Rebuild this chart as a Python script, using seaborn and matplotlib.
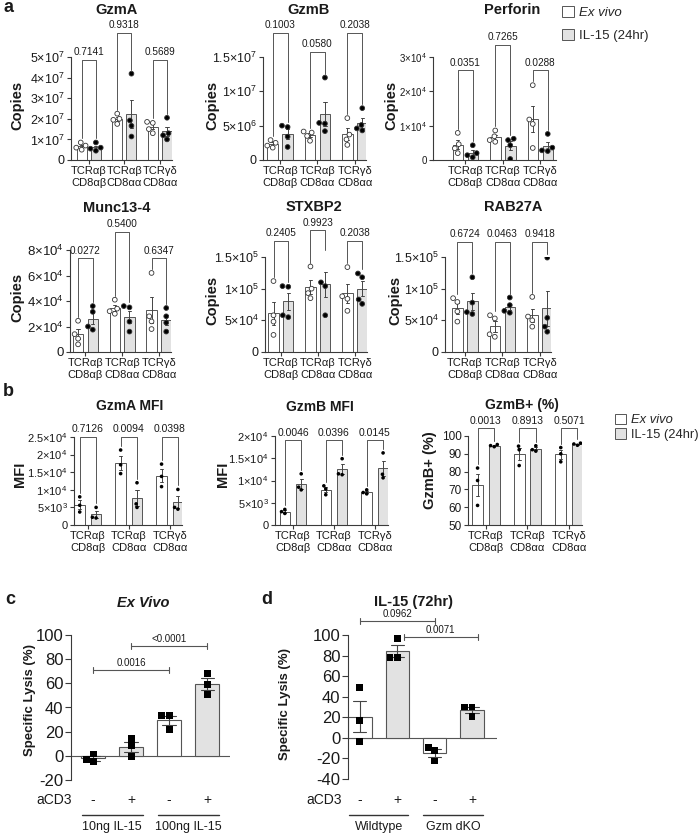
import numpy as np
import pandas as pd
import matplotlib
matplotlib.use("Agg")
import matplotlib.pyplot as plt
import seaborn as sns
from matplotlib.patches import Patch
from matplotlib.transforms import blended_transform_factory

# ---------------- data ----------------
cell_types = ["TCRαβ\nCD8αβ", "TCRαβ\nCD8αα", "TCRγδ\nCD8αα"]
conditions = ["Ex vivo", "IL-15 (24hr)"]

gzma_exvivo = [[0.85e7, 0.70e7, 0.60e7, 0.50e7], [2.25e7, 2.00e7, 1.95e7, 1.75e7], [1.85e7, 1.80e7, 1.50e7, 1.30e7]]
gzma_il15 = [[0.85e7, 0.60e7, 0.55e7, 0.45e7], [4.19e7, 1.92e7, 1.66e7, 1.14e7], [2.05e7, 1.30e7, 1.20e7, 1.00e7]]
gzma_p = ["0.7141", "0.9318", "0.5689"]

gzmb_exvivo = [[2.9e6, 2.5e6, 2.1e6, 1.8e6], [4.15e6, 4.0e6, 3.5e6, 2.8e6], [6.1e6, 3.7e6, 3.0e6, 2.2e6]]
gzmb_il15 = [[5.0e6, 4.8e6, 3.4e6, 1.9e6], [12.0e6, 5.4e6, 5.3e6, 4.2e6], [7.55e6, 5.1e6, 4.6e6, 4.3e6]]
gzmb_p = ["0.1003", "0.0580", "0.2038"]

prf_exvivo = [[7.9e3, 4.6e3, 3.4e3, 2.0e3], [8.6e3, 6.9e3, 5.8e3, 5.3e3], [21.8e3, 11.8e3, 10.5e3, 3.5e3]]
prf_il15 = [[4.3e3, 2.0e3, 1.4e3, 0.8e3], [6.2e3, 5.8e3, 4.3e3, 0.3e3], [7.6e3, 3.6e3, 2.8e3, 2.6e3]]
prf_p = ["0.0351", "0.7265", "0.0288"]

munc_exvivo = [[2.45e4, 1.4e4, 1.05e4, 0.6e4], [4.1e4, 3.4e4, 3.2e4, 3.0e4], [6.2e4, 2.8e4, 2.4e4, 1.8e4]]
munc_il15 = [[3.6e4, 3.15e4, 2.0e4, 1.75e4], [3.6e4, 3.5e4, 2.38e4, 1.6e4], [3.45e4, 2.8e4, 2.3e4, 1.6e4]]
munc_p = ["0.0272", "0.5400", "0.6347"]

stx_exvivo = [[11.2e4, 5.8e4, 4.8e4, 2.7e4], [13.5e4, 10.0e4, 9.3e4, 8.5e4], [13.4e4, 8.8e4, 8.4e4, 6.5e4]]
stx_il15 = [[10.4e4, 10.3e4, 5.8e4, 5.5e4], [15.5e4, 11.0e4, 10.4e4, 5.8e4], [12.4e4, 11.8e4, 8.3e4, 7.6e4]]
stx_p = ["0.2405", "0.9923", "0.2038"]

rab_exvivo = [[8.5e4, 7.9e4, 6.4e4, 4.8e4], [5.8e4, 5.3e4, 2.8e4, 2.4e4], [8.7e4, 5.6e4, 5.0e4, 4.0e4]]
rab_il15 = [[11.8e4, 7.8e4, 6.3e4, 6.0e4], [8.6e4, 7.4e4, 6.5e4, 6.2e4], [14.9e4, 5.4e4, 4.0e4, 3.2e4]]
rab_p = ["0.6724", "0.0463", "0.9418"]

mfia_exvivo = [[8.0e3, 5.6e3, 3.7e3], [21.3e3, 17.1e3, 14.6e3], [17.3e3, 13.8e3, 10.9e3]]
mfia_il15 = [[5.0e3, 2.2e3, 2.0e3], [12.0e3, 6.0e3, 5.0e3], [10.1e3, 5.0e3, 4.5e3]]
mfia_p = ["0.7126", "0.0094", "0.0398"]

mfib_exvivo = [[3.5e3, 3.0e3, 2.6e3], [8.8e3, 8.1e3, 6.8e3], [7.9e3, 7.3e3, 7.0e3]]
mfib_il15 = [[11.5e3, 8.5e3, 7.9e3], [14.9e3, 11.5e3, 11.3e3], [16.2e3, 11.4e3, 10.6e3]]
mfib_p = ["0.0046", "0.0396", "0.0145"]

pct_exvivo = [[82, 75, 61], [94.3, 92.3, 83.4], [93.5, 90.0, 85.5]]
pct_il15 = [[95.2, 94.6, 94.0], [94.5, 92.3, 91.5], [96.0, 95.5, 94.8]]
pct_p = ["0.0013", "0.8913", "0.5071"]

acd3_signs = ["-", "+"]
c_groups = ["10ng IL-15", "100ng IL-15"]
c_lysis = [[1.5, -3, -5], [14.5, 8.5, -0.5], [33, 33, 22], [68, 59, 51]]
c_p = ["0.0016", "<0.0001"]
d_groups = ["Wildtype", "Gzm dKO"]
d_lysis = [[48.5, 17, -4], [97, 78.5, 78], [-9, -12, -22.5], [30, 30, 21]]
d_p = ["0.0962", "0.0071"]

# tick labels
t_gzma = ["0", "1×10$^7$", "2×10$^7$", "3×10$^7$", "4×10$^7$", "5×10$^7$"]
t_gzmb = ["0", "5×10$^6$", "1×10$^7$", "1.5×10$^7$"]
t_prf = ["0", "1×10$^4$", "2×10$^4$", "3×10$^4$"]
t_munc = ["0", "2×10$^4$", "4×10$^4$", "6×10$^4$", "8×10$^4$"]
t_e5 = ["0", "5×10$^4$", "1×10$^5$", "1.5×10$^5$"]
t_mfia = ["0", "5×10$^3$", "1×10$^4$", "1.5×10$^4$", "2×10$^4$", "2.5×10$^4$"]
t_mfib = ["0", "5×10$^3$", "1×10$^4$", "1.5×10$^4$", "2×10$^4$"]
t_pct = ["50", "60", "70", "80", "90", "100"]

# ---------------- style ----------------
sns.set_theme(style="ticks")
plt.rcParams["font.family"] = ["Liberation Sans", "DejaVu Sans"]
plt.rcParams["mathtext.fontset"] = "custom"
plt.rcParams["mathtext.rm"] = "Liberation Sans"
plt.rcParams["mathtext.it"] = "Liberation Sans:italic"
plt.rcParams["mathtext.bf"] = "Liberation Sans:bold"

W, H = 699, 833
fig = plt.figure(figsize=(W / 100, H / 100), dpi=100)
fig.patch.set_facecolor("white")

LINE = "#3a3a3a"
EDGE = "#555555"
FILL = "#e2e2e2"
TXT = "#1a1a1a"


def px_rect(l, t, r, b):
    return [l / W, 1 - b / H, (r - l) / W, (b - t) / H]


def ftext(x, y, s, **kw):
    kw.setdefault("ha", "center")
    kw.setdefault("va", "center")
    kw.setdefault("color", TXT)
    fig.text(x / W, 1 - y / H, s, **kw)


def style_axis(ax, ytick_fs, hide_bottom=False):
    sns.despine(ax=ax)
    for s in ["left", "bottom"]:
        ax.spines[s].set_color(LINE)
        ax.spines[s].set_linewidth(0.8)
    if hide_bottom:
        ax.spines["bottom"].set_visible(False)
    ax.tick_params(axis="both", colors=LINE, labelcolor=TXT, width=0.8, length=3, pad=1.5)
    ax.tick_params(axis="y", labelsize=ytick_fs)
    ax.set_xlabel("")
    ax.set_ylabel("")


def grouped_panel(rect, exv, il, ylim, yticks, yticklabels, xlim, pvals, bracket_y,
                  ytick_fs=8.5, xtick_fs=8, p_fs=7.2, pt_size=3.4, open_pts=True,
                  gap=0.3, capsize=0.18, p_off=2):
    ax = fig.add_axes(px_rect(*rect))
    rows = []
    for cond, series in zip(conditions, (exv, il)):
        for cell, vals in zip(cell_types, series):
            for v in vals:
                rows.append((cell, cond, v))
    df = pd.DataFrame(rows, columns=["cell", "cond", "value"])
    sns.barplot(data=df, x="cell", y="value", hue="cond", order=cell_types,
                hue_order=conditions, palette={conditions[0]: "white", conditions[1]: FILL},
                errorbar="se", capsize=capsize, gap=gap, width=0.8, edgecolor=EDGE,
                linewidth=0.7, err_kws={"color": "#444444", "linewidth": 0.7},
                legend=False, ax=ax)
    pt_pal = {conditions[0]: "white" if open_pts else "black", conditions[1]: "black"}
    sns.swarmplot(data=df, x="cell", y="value", hue="cond", order=cell_types,
                  hue_order=conditions, palette=pt_pal, dodge=True, size=pt_size,
                  edgecolor="#333333", linewidth=0.6 if open_pts else 0.0,
                  legend=False, ax=ax)
    ax.set_xlim(*xlim)
    ax.set_ylim(*ylim)
    ax.set_yticks(yticks, yticklabels)
    ax.set_xticks(range(len(cell_types)), cell_types)
    style_axis(ax, ytick_fs)
    ax.tick_params(axis="x", labelsize=xtick_fs)
    for t in ax.get_xticklabels():
        t.set_linespacing(1.25)
    # brackets
    h_px = rect[3] - rect[1]
    pad = 4 / h_px * (ylim[1] - ylim[0])
    for g in range(len(cell_types)):
        tops = []
        for series in (exv, il):
            vals = np.asarray(series[g], float)
            sem = vals.std(ddof=1) / np.sqrt(len(vals))
            tops.append(max(vals.max(), vals.mean() + sem) + pad)
        x0, x1 = g - 0.2, g + 0.2
        yb = bracket_y[g]
        ax.plot([x0, x0, x1, x1], [tops[0], yb, yb, tops[1]], color="#555555",
                lw=0.7, clip_on=False)
        ax.annotate(pvals[g], (g, yb), xytext=(0, p_off), textcoords="offset points",
                    ha="center", va="bottom", fontsize=p_fs, color=TXT,
                    annotation_clip=False)
    return ax


def lysis_panel(rect, groups, values, ylim, yticks, xlim, pvals, pairs, bracket_y,
                acd3_x, label_y=800, line_y=815, group_y=827):
    ax = fig.add_axes(px_rect(*rect))
    cats = [f"{g} {s}" for g in groups for s in acd3_signs]
    signs = [s for g in groups for s in acd3_signs]
    rows = []
    for cat, sign, vals in zip(cats, signs, values):
        for v in vals:
            rows.append((cat, sign, v))
    df = pd.DataFrame(rows, columns=["cat", "sign", "lysis"])
    sns.barplot(data=df, x="cat", y="lysis", hue="sign", order=cats, hue_order=acd3_signs,
                dodge=False, palette={"-": "white", "+": FILL}, width=0.63,
                errorbar="se", capsize=0.35, edgecolor=EDGE, linewidth=0.8,
                err_kws={"color": "#444444", "linewidth": 0.8}, legend=False, ax=ax)
    sns.swarmplot(data=df, x="cat", y="lysis", hue="sign", order=cats,
                  hue_order=acd3_signs, dodge=False, palette={"-": "black", "+": "black"},
                  marker="s", size=5.0, linewidth=0, legend=False, ax=ax)
    ax.set_xlim(*xlim)
    ax.set_ylim(*ylim)
    ax.set_yticks(yticks, [str(v) for v in yticks])
    style_axis(ax, 12, hide_bottom=True)
    ax.tick_params(axis="y", length=4)
    ax.set_xticks([])
    ax.axhline(0, color="#555555", lw=0.8, zorder=0.5)
    h_px = rect[3] - rect[1]
    trans = blended_transform_factory(ax.transData, ax.transAxes)

    def ay(py):
        return (rect[3] - py) / h_px
    for i, s in enumerate(signs):
        ax.text(i, ay(label_y), s, transform=trans, ha="center", va="center",
                fontsize=10, color=TXT, clip_on=False)
    for gi, g in enumerate(groups):
        x0, x1 = 2 * gi - 0.3, 2 * gi + 1 + 0.3
        ax.plot([x0, x1], [ay(line_y)] * 2, transform=trans, color="#333333", lw=1.0,
                clip_on=False)
        ax.text((x0 + x1) / 2, ay(group_y), g, transform=trans, ha="center", va="center",
                fontsize=9, color=TXT, clip_on=False)
    ftext(acd3_x, label_y, "aCD3", fontsize=10)
    tick = 3 / h_px * (ylim[1] - ylim[0])
    for (i, j), yb, p in zip(pairs, bracket_y, pvals):
        ax.plot([i, j], [yb, yb], color="#555555", lw=0.8, clip_on=False)
        for xx in (i, j):
            ax.plot([xx, xx], [yb - tick, yb + tick], color="#555555", lw=0.8, clip_on=False)
        ax.annotate(p, ((i + j) / 2, yb), xytext=(0, 1.5), textcoords="offset points",
                    ha="center", va="bottom", fontsize=7, color=TXT, annotation_clip=False)
    return ax


# ---------------- panel a ----------------
grouped_panel((71, 57, 172, 160), gzma_exvivo, gzma_il15, (0, 5e7),
              [0, 1e7, 2e7, 3e7, 4e7, 5e7], t_gzma, (-0.5, 2.34), gzma_p,
              [4.87e7, 6.17e7, 4.87e7], ytick_fs=9)
grouped_panel((263, 57, 366, 160), gzmb_exvivo, gzmb_il15, (0, 1.5e7),
              [0, 5e6, 1e7, 1.5e7], t_gzmb, (-0.46, 2.3), gzmb_p,
              [18.5e6, 15.7e6, 18.5e6], ytick_fs=9)
grouped_panel((433, 57, 556, 160), prf_exvivo, prf_il15, (0, 3e4),
              [0, 1e4, 2e4, 3e4], t_prf, (-0.86, 2.42), prf_p,
              [26.1e3, 33.6e3, 26.1e3], ytick_fs=7)
grouped_panel((70, 250, 171, 352), munc_exvivo, munc_il15, (0, 8e4),
              [0, 2e4, 4e4, 6e4, 8e4], t_munc, (-0.42, 2.33), munc_p,
              [7.35e4, 9.44e4, 7.35e4], ytick_fs=9.5)
grouped_panel((265, 257, 367, 352), stx_exvivo, stx_il15, (0, 1.5e5),
              [0, 5e4, 1e5, 1.5e5], t_e5, (-0.43, 2.33), stx_p,
              [17.6e4, 19.2e4, 17.6e4], ytick_fs=9)
grouped_panel((445, 257, 551, 352), rab_exvivo, rab_il15, (0, 1.5e5),
              [0, 5e4, 1e5, 1.5e5], t_e5, (-0.53, 2.3), rab_p,
              [17.4e4, 17.4e4, 17.4e4], ytick_fs=9)

for x, y, s in [(117, 10, "GzmA"), (308, 10, "GzmB"), (512, 10, "Perforin"),
                (117, 208, "Munc13-4"), (314, 207, "STXBP2"), (513, 207, "RAB27A")]:
    ftext(x, y, s, fontsize=10.5, fontweight="bold")
for x, y in [(17, 105), (212, 105), (391, 105), (17, 297), (212, 300), (395, 300)]:
    ftext(x, y, "Copies", fontsize=10.5, fontweight="bold", rotation=90)

# ---------------- panel b ----------------
grouped_panel((74, 437, 182, 525), mfia_exvivo, mfia_il15, (0, 2.5e4),
              [0, 5e3, 1e4, 1.5e4, 2e4, 2.5e4], t_mfia, (-0.34, 2.3), mfia_p,
              [25e3, 25e3, 25e3], ytick_fs=8, pt_size=2.6, open_pts=False,
              gap=0.36, capsize=0.15, p_fs=7.5)
grouped_panel((275, 436, 388, 525), mfib_exvivo, mfib_il15, (0, 2e4),
              [0, 5e3, 1e4, 1.5e4, 2e4], t_mfib, (-0.44, 2.32), mfib_p,
              [19e3, 19e3, 19e3], ytick_fs=8, pt_size=2.6, open_pts=False,
              gap=0.36, capsize=0.15, p_fs=7.5)
grouped_panel((468, 436, 582, 525), pct_exvivo, pct_il15, (50, 100),
              [50, 60, 70, 80, 90, 100], t_pct, (-0.43, 2.31), pct_p,
              [104.5, 104.5, 104.5], ytick_fs=8.5, pt_size=2.6, open_pts=False,
              gap=0.36, capsize=0.15, p_fs=7.5, p_off=1.5)

for x, y, s in [(130, 406, "GzmA MFI"), (320, 407, "GzmB MFI"), (522, 405, "GzmB+ (%)")]:
    ftext(x, y, s, fontsize=10, fontweight="bold")
ftext(20, 474, "MFI", fontsize=10.5, fontweight="bold", rotation=90)
ftext(223, 474, "MFI", fontsize=10.5, fontweight="bold", rotation=90)
ftext(430, 470, "GzmB+ (%)", fontsize=10.5, fontweight="bold", rotation=90)

# legends
leg_handles = [Patch(facecolor=c, edgecolor=EDGE, linewidth=0.7, label=l)
               for l, c in zip(conditions, ["white", FILL])]
leg_a = fig.legend(handles=leg_handles, loc="upper left", bbox_to_anchor=(559 / W, 1 - 3 / H),
                   frameon=False, fontsize=9.5, handlelength=0.9, handleheight=0.9,
                   handletextpad=0.45, labelspacing=0.75, borderpad=0.2, borderaxespad=0)
leg_a.get_texts()[0].set_fontstyle("italic")
leg_b = fig.legend(handles=leg_handles, loc="upper left", bbox_to_anchor=(612 / W, 1 - 411 / H),
                   frameon=False, fontsize=9.3, handlelength=0.9, handleheight=0.9,
                   handletextpad=0.4, labelspacing=0.15, borderpad=0.2, borderaxespad=0)
leg_b.get_texts()[0].set_fontstyle("italic")

# ---------------- panels c, d ----------------
lysis_panel((71, 635, 230, 780), c_groups, c_lysis, (-20, 100),
            [-20, 0, 20, 40, 60, 80, 100], (-0.58, 3.6), c_p, [(0, 2), (1, 3)],
            [70.8, 90.8], acd3_x=54)
lysis_panel((348, 635, 497, 779), d_groups, d_lysis, (-40, 100),
            [-40, -20, 0, 20, 40, 60, 80, 100], (-0.32, 3.67), d_p,
            [(0, 2), (1.18, 3.15)], [114, 98.4], acd3_x=324)

ftext(143, 603, "Ex Vivo", fontsize=10.5, fontweight="bold", fontstyle="italic")
ftext(413, 602, "IL-15 (72hr)", fontsize=10.5, fontweight="bold")
ftext(30, 700, "Specific Lysis (%)", fontsize=9.5, fontweight="bold", rotation=90)
ftext(285, 704, "Specific Lysis (%)", fontsize=9.5, fontweight="bold", rotation=90)

# panel letters
for x, y, s in [(8, 8, "a"), (8, 392, "b"), (10, 600, "c"), (267, 600, "d")]:
    ftext(x, y, s, fontsize=13, fontweight="bold")

fig.savefig("out.png", dpi=100)
